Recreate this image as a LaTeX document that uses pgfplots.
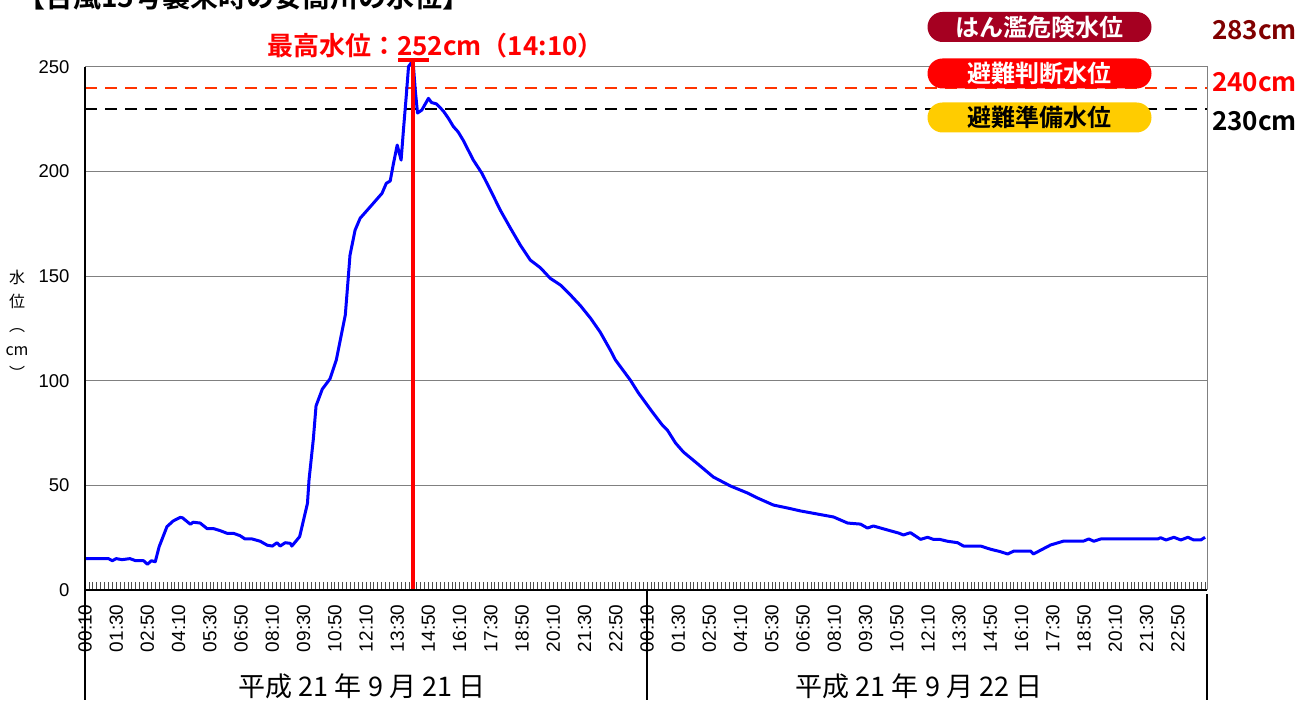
\documentclass[border=0pt]{standalone}
\usepackage{fontspec}
\setmainfont{Liberation Sans}
\newfontfamily\cjk{Noto Sans CJK JP}[BoldFont={Noto Sans CJK JP Bold}]
\usepackage{pgfplots}
\pgfplotsset{compat=1.18}
\definecolor{dred}{RGB}{165,0,33}
\definecolor{txtdred}{RGB}{128,0,0}
\definecolor{badgeyel}{RGB}{255,204,0}
\definecolor{dashred}{RGB}{255,51,0}
\begin{document}
\begin{tikzpicture}[x=1bp,y=1bp]
\path[use as bounding box] (0,0) rectangle (1311,700);
\begin{axis}[
  scale only axis, width=1122bp, height=523bp,
  at={(85bp,110bp)}, anchor=south west,
  xmin=0, xmax=287.5, ymin=0, ymax=250,
  clip=false,
  axis line style={draw=gray, line width=1bp},
  ytick={0,50,...,250},
  ymajorgrids, grid style={gray, line width=1bp},
  ytick style={draw=none},
  xtick={0,8,...,280},
  xticklabels={00:10,01:30,02:50,04:10,05:30,06:50,08:10,09:30,10:50,12:10,13:30,14:50,16:10,17:30,18:50,20:10,21:30,22:50,00:10,01:30,02:50,04:10,05:30,06:50,08:10,09:30,10:50,12:10,13:30,14:50,16:10,17:30,18:50,20:10,21:30,22:50},
  minor xtick={0,1,...,287},
  tick align=inside,
  xtick pos=left, ytick pos=left,
  major tick length=8bp, minor tick length=8bp,
  xtick style={black!70, line width=0.7bp},
  minor x tick style={black!70, line width=0.7bp},
  x tick label style={rotate=90, anchor=east, font=\fontsize{19bp}{19bp}\selectfont},
  xticklabel shift=11bp,
  y tick label style={font=\fontsize{18.5bp}{18.5bp}\selectfont},
  yticklabel shift=12bp,
  /pgf/number format/assume math mode=true,
]
\addplot[dashred, dash pattern=on 12bp off 8bp, line width=2bp] coordinates {(0,240) (287.5,240)};
\addplot[black, dash pattern=on 12bp off 8bp, line width=2bp] coordinates {(0,230) (287.5,230)};
\addplot[blue, line width=3bp, line join=round] coordinates {
(0,15) (6,15) (7,14) (8,15) (9.5,14.5) (11.5,15) (13,14) (15,14) (16,12.3) (17,14) (18,13.5) (19,20.7) (21,30.3) (22.6,33) (24.4,34.7) (25,34.5) (27,31.4) (27.7,32.4) (29.5,32) (31.3,29.3) (33,29.3) (34.6,28.4) (36.4,27.1) (38,27.1) (39.7,26) (41,24.4) (42.8,24.4) (44.9,23.3) (46.7,21.4) (48,21) (49.2,22.6) (50,21) (51.3,22.6) (52.6,22.3) (53,21) (55,25.5) (57,41.4) (57.4,52.6) (58.5,72) (59.2,88) (60.8,96) (62.8,101) (64.4,110) (65.9,124) (66.7,131.5) (67.4,148) (67.9,160) (69.2,172) (70.5,177.7) (73.1,183.2) (76.1,189.6) (77.2,194.4) (78.2,195.5) (79,203.5) (80,212.7) (81,205.5) (81.6,220) (82.3,235.8) (82.9,250.2) (83.5,251.8) (84.1,252) (84.6,239.5) (85.2,228) (86.3,229.4) (88,235) (88.8,233) (90,232.4) (91.8,229) (93.1,225.5) (94.4,221.5) (95.6,219) (96.9,215) (99.5,205.5) (101.7,199.2) (104.3,189.6) (106.4,181.6) (109,173) (111.5,165) (114.1,157.7) (116.7,154) (119.2,149) (121.8,145.8) (124.4,141) (126.9,136) (129.5,130) (132,123.3) (134.6,114.7) (135.9,110) (139.7,100.4) (141.8,94.2) (145.4,85) (147.9,78.9) (149.2,76.5) (151.3,70.3) (153.3,66) (156.4,61.2) (161,54) (165.4,49.7) (169.7,46.4) (172.3,44) (176.4,40.6) (180,39.2) (183.3,37.8) (187.7,36.3) (191.8,34.9) (195.4,32) (198.7,31.5) (200.5,29.6) (202,30.6) (205.6,28.7) (208.5,27.2) (209.7,26.3) (211.5,27.4) (214.1,24.2) (215.9,25.2) (217.4,24.2) (219,24.2) (221,23.3) (223.6,22.6) (225.1,21) (229.5,21) (232,19.5) (234.6,18.3) (236.4,17.2) (238,18.6) (242.3,18.6) (243,17.2) (247.4,21.5) (250.8,23.4) (255.9,23.4) (257.2,24.4) (258.5,23.3) (260.3,24.4) (274.9,24.4) (275.6,25) (277,23.9) (279,25.2) (280.8,23.9) (282.6,25.2) (284.1,23.9) (285.9,23.9) (287,25.2)
};
\addplot[red, line width=4bp] coordinates {(84,0) (84,252.5)};
\addplot[red, line width=4bp] coordinates {(80.3,253.5) (88.1,253.5)};
\draw[black, line width=1.3bp] (axis cs:0,250) -- (axis cs:0,0) -- (axis cs:287.5,0);
\end{axis}
% day separators
\draw[black, line width=1.5bp] (85,110) -- (85,0);
\draw[black, line width=1.5bp] (647,110) -- (647,0);
\draw[black, line width=1.5bp] (1207,106) -- (1207,0);
% day labels
\node[anchor=base, font=\cjk\fontsize{27bp}{27bp}\selectfont] at (362,4) {平成 21 年 9 月 21 日};
\node[anchor=base, font=\cjk\fontsize{27bp}{27bp}\selectfont] at (919,4) {平成 21 年 9 月 22 日};
% y label
\node[align=center, font=\cjk\fontsize{16bp}{24bp}\selectfont] at (17,375) {水\\位\\︵\\cm\\︶};
% title (cut at the top edge, as in the reference)
\node[anchor=base west, inner sep=0pt, font=\cjk\bfseries\fontsize{28bp}{28bp}\selectfont] at (17,692) {【台風15号襲来時の安高川の水位】};
% max annotation
\node[anchor=base west, inner sep=0pt, text=red, font=\cjk\bfseries\fontsize{26bp}{26bp}\selectfont] at (267,644) {最高水位：252cm（14:10）};
% badges
\node[fill=dred, rounded corners=15bp, minimum width=224bp, minimum height=30bp, inner sep=0pt, text=white, font=\cjk\bfseries\fontsize{24bp}{24bp}\selectfont] at (1039.5,673) {はん濫危険水位};
\node[fill=red, rounded corners=15bp, minimum width=224bp, minimum height=30bp, inner sep=0pt, text=white, font=\cjk\bfseries\fontsize{24bp}{24bp}\selectfont] at (1039.5,626.5) {避難判断水位};
\node[fill=badgeyel, rounded corners=15bp, minimum width=224bp, minimum height=30bp, inner sep=0pt, text=black, font=\cjk\bfseries\fontsize{24bp}{24bp}\selectfont] at (1039.5,582.5) {避難準備水位};
% level values
\node[anchor=base west, inner sep=0pt, text=txtdred, font=\cjk\bfseries\fontsize{26bp}{26bp}\selectfont] at (1212,660) {283cm};
\node[anchor=base west, inner sep=0pt, text=red, font=\cjk\bfseries\fontsize{26bp}{26bp}\selectfont] at (1212,608) {240cm};
\node[anchor=base west, inner sep=0pt, text=black, font=\cjk\bfseries\fontsize{26bp}{26bp}\selectfont] at (1212,569) {230cm};
\end{tikzpicture}
\end{document}
